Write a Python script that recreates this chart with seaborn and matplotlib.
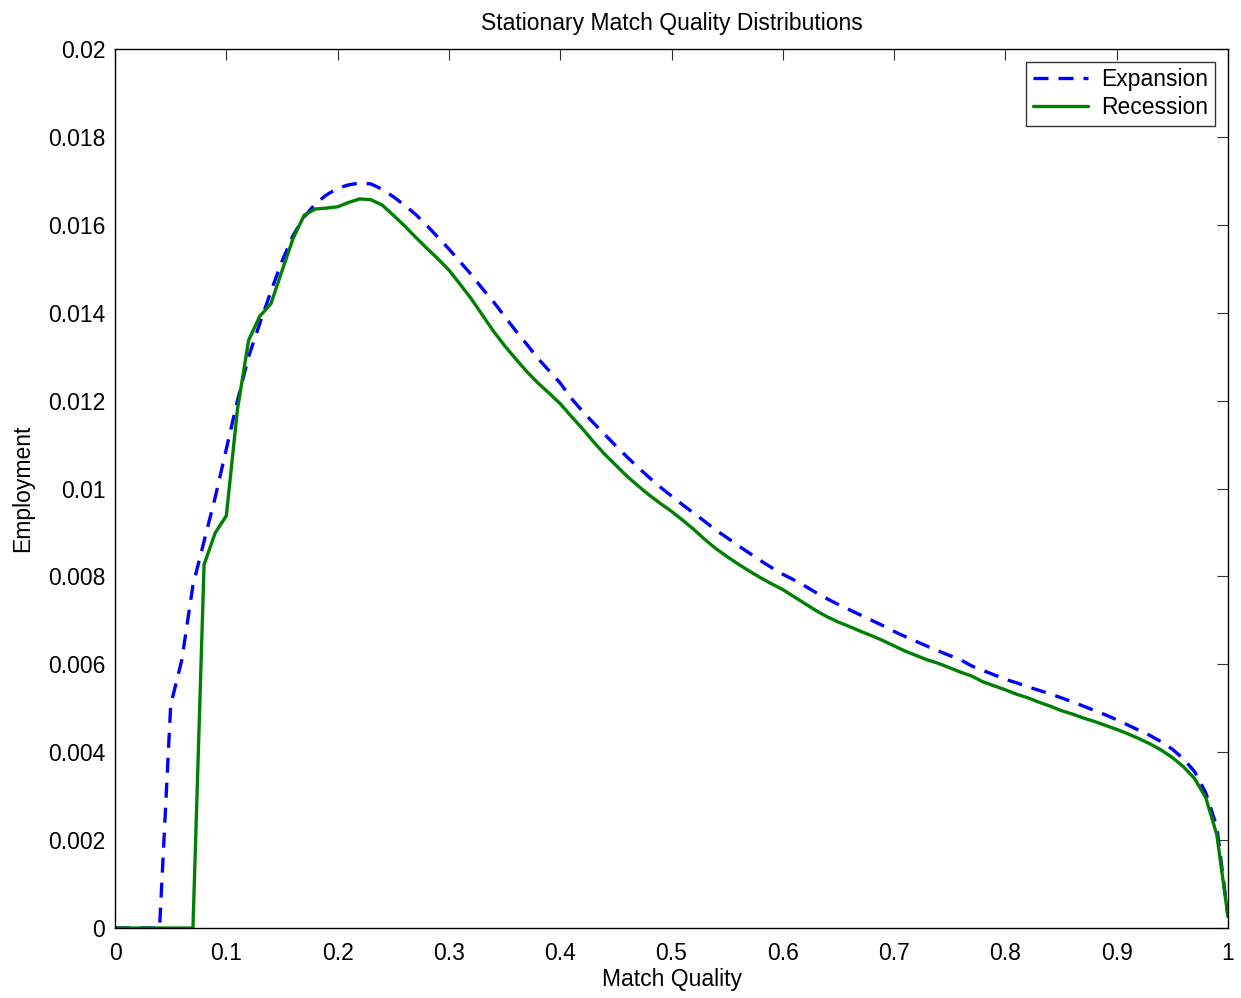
import numpy as np
import pandas as pd
import matplotlib
matplotlib.use("Agg")
import matplotlib.pyplot as plt
import seaborn as sns

# match quality grid (0.00 .. 1.00, step 0.01)
quality = [round(i / 100, 2) for i in range(101)]

expansion = [
    0, 0, 0, 0, 0,
    0.00507, 0.0061, 0.0078, 0.0088, 0.0098,
    0.0109, 0.0120, 0.0130, 0.01375, 0.01448,
    0.01517, 0.01576, 0.01618, 0.01648, 0.01668,
    0.01683, 0.01691, 0.01695, 0.01693, 0.01681,
    0.01664, 0.01645, 0.01624, 0.01599, 0.01572,
    0.01545, 0.01516, 0.01487, 0.01455, 0.01425,
    0.01392, 0.01359, 0.01328, 0.01296, 0.01268,
    0.0124, 0.01205, 0.01176, 0.01149, 0.01123,
    0.01097, 0.01072, 0.01048, 0.01025, 0.01003,
    0.00983, 0.00963, 0.00944, 0.00925, 0.00905,
    0.00888, 0.0087, 0.00853, 0.00836, 0.0082,
    0.00805, 0.00792, 0.00778, 0.00763, 0.00749,
    0.00736, 0.00724, 0.00712, 0.007, 0.00688,
    0.00675, 0.00663, 0.00652, 0.00641, 0.0063,
    0.0062, 0.0061, 0.00596, 0.00586, 0.00576,
    0.00566, 0.00558, 0.00549, 0.00541, 0.00533,
    0.00524, 0.00515, 0.00505, 0.00495, 0.00485,
    0.00474, 0.00462, 0.0045, 0.00438, 0.00424,
    0.00407, 0.00385, 0.00356, 0.00308, 0.0023,
    0.00026,
]

recession = [
    0, 0, 0, 0, 0,
    0, 0, 0, 0.00827, 0.00899,
    0.00938, 0.0118, 0.01337, 0.01392, 0.0142,
    0.01495, 0.01569, 0.01622, 0.01636, 0.01638,
    0.01641, 0.01651, 0.01659, 0.01657, 0.01645,
    0.01622, 0.01598, 0.01572, 0.01547, 0.01523,
    0.01497, 0.01465, 0.01432, 0.01395, 0.01358,
    0.01325, 0.01295, 0.01266, 0.0124, 0.01217,
    0.01193, 0.01164, 0.01136, 0.01106, 0.01078,
    0.01053, 0.01028, 0.01006, 0.00985, 0.00966,
    0.00948, 0.00928, 0.00907, 0.00884, 0.00863,
    0.00845, 0.00828, 0.00812, 0.00797, 0.00783,
    0.0077, 0.00754, 0.00738, 0.00722, 0.00708,
    0.00696, 0.00686, 0.00675, 0.00665, 0.00654,
    0.00642, 0.0063, 0.0062, 0.0061, 0.00602,
    0.00592, 0.00582, 0.00573, 0.0056, 0.00551,
    0.00542, 0.00532, 0.00524, 0.00514, 0.00505,
    0.00495, 0.00487, 0.00478, 0.0047, 0.00461,
    0.00452, 0.00442, 0.00431, 0.00419, 0.00405,
    0.00388, 0.00367, 0.0034, 0.00297, 0.00212,
    0.00026,
]

x_ticks = [0, 0.1, 0.2, 0.3, 0.4, 0.5, 0.6, 0.7, 0.8, 0.9, 1]
x_labels = ["0", "0.1", "0.2", "0.3", "0.4", "0.5", "0.6", "0.7", "0.8", "0.9", "1"]
y_ticks = [0, 0.002, 0.004, 0.006, 0.008, 0.01, 0.012, 0.014, 0.016, 0.018, 0.02]
y_labels = ["0", "0.002", "0.004", "0.006", "0.008", "0.01", "0.012", "0.014", "0.016", "0.018", "0.02"]

df = pd.DataFrame({"quality": quality, "Expansion": expansion, "Recession": recession})

sns.set_style("white")
plt.rcParams["font.family"] = ["Liberation Sans", "DejaVu Sans"]
plt.rcParams["text.color"] = "black"
plt.rcParams["axes.labelcolor"] = "black"
fs = 16.5

fig = plt.figure(figsize=(12.41, 9.98), dpi=100)
ax = fig.add_axes([0.0927, 0.0701, 0.8968, 0.8808])

sns.lineplot(data=df, x="quality", y="Expansion", ax=ax, color="#0000ff",
             linewidth=2.4, label="Expansion")
ax.lines[-1].set_dashes([4.5, 3.0])
sns.lineplot(data=df, x="quality", y="Recession", ax=ax, color="#008000",
             linewidth=2.4, label="Recession")

ax.set_xlim(0, 1)
ax.set_ylim(0, 0.02)
ax.set_xticks(x_ticks)
ax.set_xticklabels(x_labels)
ax.set_yticks(y_ticks)
ax.set_yticklabels(y_labels)
ax.tick_params(direction="in", length=8, width=0.8, top=True, right=True,
               labelsize=fs, colors="#333333", labelcolor="black")
ax.tick_params(axis="x", pad=10)
ax.tick_params(axis="y", pad=7)
for s in ax.spines.values():
    s.set_visible(True)
    s.set_color("black")
    s.set_linewidth(1.0)

ax.set_xlabel("Match Quality", fontsize=fs, labelpad=2)
ax.set_ylabel("Employment", fontsize=fs, labelpad=10)
ax.set_title("Stationary Match Quality Distributions", fontsize=fs, pad=14)

leg = ax.legend(loc="upper right", fontsize=fs, frameon=True, fancybox=False,
                borderaxespad=0.55, handlelength=2.4, handletextpad=0.6,
                borderpad=0.3, labelspacing=0.2)
leg.get_frame().set_edgecolor("black")
leg.get_frame().set_linewidth(1.0)

fig.savefig("out.png", dpi=100)
